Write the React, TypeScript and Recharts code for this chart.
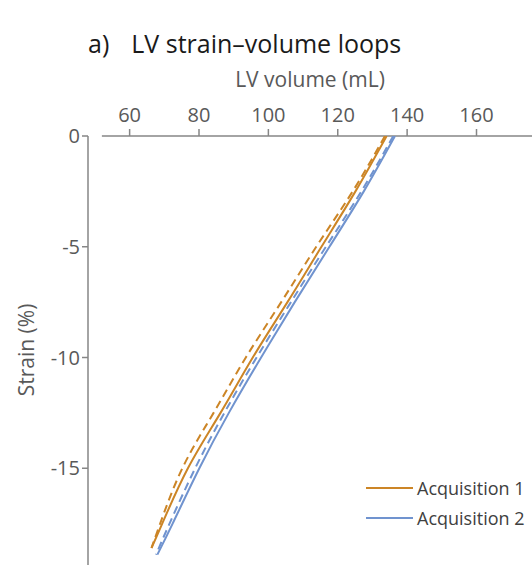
import { LineChart, Line, XAxis, YAxis, ReferenceLine, Legend, Label } from "recharts"

const volumeTicks = [60, 80, 100, 120, 140, 160]
const strainTicks = [0, -5, -10, -15]

// acquisition 1 (orange)
const acq1Strain = [0, -2.5, -5, -7.5, -10, -12.5, -15, -17.5, -18.6]
const acq1SolidVol = [134.1, 125.1, 115.3, 105.5, 95.5, 86.2, 76.8, 69.4, 66.3]
const acq1DashedVol = [133.6, 124.3, 113.8, 103.7, 93.5, 84.2, 75.2, 68.8, 66.3]

// acquisition 2 (blue)
const acq2Strain = [0, -2.5, -5, -7.5, -10, -12.5, -15, -17.5, -18.9]
const acq2SolidVol = [136.5, 127.5, 117.6, 107.6, 97.9, 88.6, 80.1, 72.4, 68]
const acq2DashedVol = [136, 126.8, 116.6, 106.5, 96.6, 87.3, 78.9, 71.5, 67.6]

const seriesNames = ["Acquisition 1", "Acquisition 2"]
const seriesColors = ["#CC8526", "#7093CF"]

const toPoints = (vols: number[], strains: number[]) =>
  vols.map((v, i) => ({ vol: v, strain: strains[i] }))

const acq1Solid = toPoints(acq1SolidVol, acq1Strain)
const acq1Dashed = toPoints(acq1DashedVol, acq1Strain)
const acq2Solid = toPoints(acq2SolidVol, acq2Strain)
const acq2Dashed = toPoints(acq2DashedVol, acq2Strain)

const font = "'Open Sans', sans-serif"

const renderLegend = () => (
  <div style={{ fontFamily: font, fontSize: 18, color: "#404040" }}>
    {seriesNames.map((name, i) => (
      <div key={name} style={{ display: "flex", alignItems: "center", height: 30 }}>
        <div style={{ width: 47, height: 2, background: seriesColors[i], marginRight: 4 }} />
        <span>{name}</span>
      </div>
    ))}
  </div>
)

export default function App() {
  return (
    <div style={{ position: "fixed", left: 0, top: 0, width: 532, height: 565, overflow: "hidden", background: "#fff" }}>
      <div
        style={{
          position: "absolute",
          left: 88,
          top: 26,
          fontFamily: font,
          fontSize: 25,
          color: "#1a1a1a",
          whiteSpace: "nowrap",
        }}
      >
        a)<span style={{ marginLeft: 22 }}>LV strain–volume loops</span>
      </div>

      <LineChart width={532} height={600} margin={{ top: 106, right: 0, bottom: 21, left: 0 }}>
        <XAxis
          type="number"
          dataKey="vol"
          orientation="top"
          domain={[48, 176]}
          ticks={volumeTicks}
          allowDataOverflow
          height={30}
          axisLine={false}
          tickSize={7}
          tickMargin={7}
          tickLine={{ stroke: "#868686", strokeWidth: 1.5 }}
          tick={{ fill: "#595959", fontSize: 20, fontFamily: font }}
        >
          <Label
            value="LV volume (mL)"
            position="top"
            offset={19}
            style={{ fill: "#595959", fontSize: 21, fontFamily: font }}
          />
        </XAxis>
        <YAxis
          type="number"
          dataKey="strain"
          domain={[-20, 0]}
          ticks={strainTicks}
          allowDataOverflow
          width={88}
          axisLine={{ stroke: "#868686", strokeWidth: 1.5 }}
          tickSize={6}
          tickMargin={2}
          tickLine={{ stroke: "#868686", strokeWidth: 1.5 }}
          tick={{ fill: "#595959", fontSize: 20, fontFamily: font }}
        >
          <Label
            content={() => (
              <text
                x={26}
                y={350}
                transform="rotate(-90 26 350)"
                textAnchor="middle"
                dominantBaseline="central"
                fill="#595959"
                fontSize={21}
                fontFamily={font}
              >
                Strain (%)
              </text>
            )}
          />
        </YAxis>
        <ReferenceLine
          segment={[{ x: 52, y: 0 }, { x: 176, y: 0 }]}
          stroke="#868686"
          strokeWidth={1.5}
          ifOverflow="visible"
        />
        <Line
          data={acq1Dashed}
          dataKey="strain"
          type="natural"
          stroke={seriesColors[0]}
          strokeWidth={2}
          strokeDasharray="8 5"
          dot={false}
          legendType="none"
          isAnimationActive={false}
        />
        <Line
          data={acq2Dashed}
          dataKey="strain"
          type="natural"
          stroke={seriesColors[1]}
          strokeWidth={2}
          strokeDasharray="8 5"
          dot={false}
          legendType="none"
          isAnimationActive={false}
        />
        <Line
          data={acq1Solid}
          dataKey="strain"
          name={seriesNames[0]}
          type="natural"
          stroke={seriesColors[0]}
          strokeWidth={2}
          dot={false}
          isAnimationActive={false}
        />
        <Line
          data={acq2Solid}
          dataKey="strain"
          name={seriesNames[1]}
          type="natural"
          stroke={seriesColors[1]}
          strokeWidth={2}
          dot={false}
          isAnimationActive={false}
        />
        <Legend
          layout="vertical"
          align="center"
          verticalAlign="middle"
          content={renderLegend}
          wrapperStyle={{ left: 366, top: 473, width: 170 }}
        />
      </LineChart>
    </div>
  )
}
